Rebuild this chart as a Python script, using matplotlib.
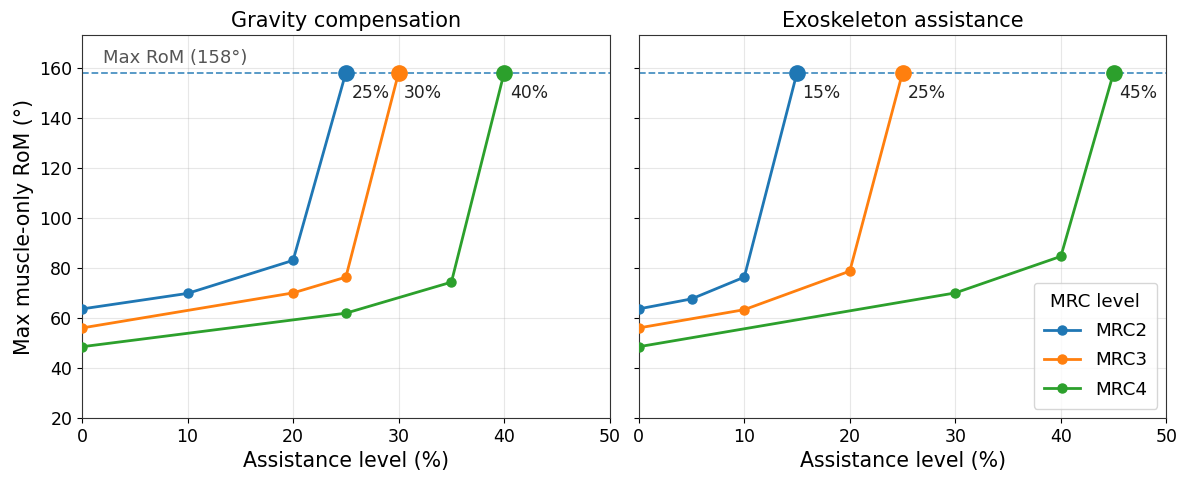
import matplotlib
matplotlib.use("Agg")
import matplotlib.pyplot as plt

max_rom = 158

gc_mrc2_x = [0, 10, 20, 25]
gc_mrc2_y = [63.6, 69.8, 83, 158]
gc_mrc3_x = [0, 20, 25, 30]
gc_mrc3_y = [56, 70, 76.3, 158]
gc_mrc4_x = [0, 25, 35, 40]
gc_mrc4_y = [48.5, 61.9, 74.3, 158]

ex_mrc2_x = [0, 5, 10, 15]
ex_mrc2_y = [63.6, 67.6, 76.3, 158]
ex_mrc3_x = [0, 10, 20, 25]
ex_mrc3_y = [56, 63.3, 78.7, 158]
ex_mrc4_x = [0, 30, 40, 45]
ex_mrc4_y = [48.5, 70, 84.6, 158]

labels = ["MRC2", "MRC3", "MRC4"]
colors = ["#1f77b4", "#ff7f0e", "#2ca02c"]

panels = [
    ("Gravity compensation", [(gc_mrc2_x, gc_mrc2_y), (gc_mrc3_x, gc_mrc3_y), (gc_mrc4_x, gc_mrc4_y)]),
    ("Exoskeleton assistance", [(ex_mrc2_x, ex_mrc2_y), (ex_mrc3_x, ex_mrc3_y), (ex_mrc4_x, ex_mrc4_y)]),
]

fig, axes = plt.subplots(1, 2, figsize=(11.89, 4.8), dpi=100, sharey=True)
fig.subplots_adjust(left=0.069, right=0.981, top=0.927, bottom=0.129, wspace=0.055)

for i, (ax, (title, series)) in enumerate(zip(axes, panels)):
    for (xs, ys), lab, c in zip(series, labels, colors):
        ax.plot(xs, ys, "-o", color=c, lw=2, ms=6.5, label=lab, zorder=3)
        ax.plot(xs[-1], ys[-1], "o", color=c, ms=11, zorder=4)
        ax.annotate(f"{xs[-1]}%", (xs[-1], ys[-1]), xytext=(4, -18),
                    textcoords="offset points", fontsize=12.3, color="#222222")
    ax.axhline(max_rom, color="#1f77b4", ls="--", lw=1.3, alpha=0.8, zorder=2)
    ax.set_title(title, fontsize=15)
    ax.set_xlabel("Assistance level (%)", fontsize=14.8)
    ax.set_xlim(0, 50)
    ax.set_ylim(20, 173)
    ax.set_xticks(range(0, 51, 10))
    ax.set_yticks(range(20, 161, 20))
    ax.tick_params(labelsize=12.5)
    ax.grid(True, alpha=0.3)
    ax.set_axisbelow(True)
    for s in ax.spines.values():
        s.set_color("#333333")

axes[0].text(2, 162, f"Max RoM ({max_rom}°)", fontsize=13, color="#555555")
axes[0].set_ylabel("Max muscle-only RoM (°)", fontsize=14.8)
leg = axes[1].legend(title="MRC level", loc="lower right", fontsize=13.2, title_fontsize=13.2,
                     labelspacing=0.62, borderpad=0.55)

fig.savefig("out.png", dpi=100)
